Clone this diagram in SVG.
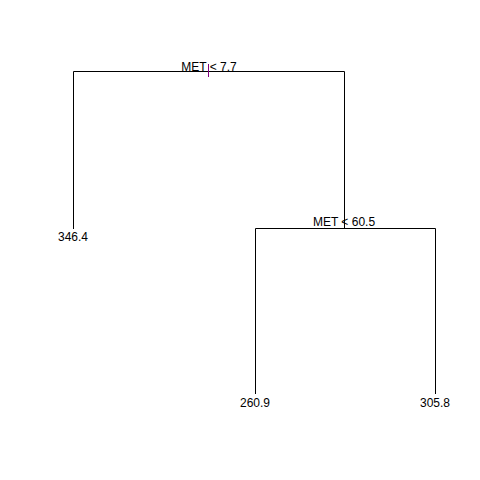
<svg xmlns="http://www.w3.org/2000/svg" width="480" height="480" viewBox="0 0 480 480">
<style>
.e{stroke:#000;stroke-width:1;fill:none}
text{font-family:"Liberation Sans",Arial,sans-serif;font-size:12px;fill:#000;text-anchor:middle}
</style>
<rect width="480" height="480" fill="#fff"/>
<g id="connectors">
<path class="e" d="M73.5,229 V71.5 H344.5 V228"/>
<path class="e" d="M255.5,394 V228.5 H435.5 V394"/>
<line x1="208.5" y1="64" x2="208.5" y2="77" stroke="#800080" stroke-width="1"/>
</g>
<g id="n1"><text x="209" y="71">MET &lt; 7.7</text></g>
<g id="n2"><text x="344" y="226">MET &lt; 60.5</text></g>
<g id="leaf1"><text x="73" y="241">346.4</text></g>
<g id="leaf2"><text x="255" y="407">260.9</text></g>
<g id="leaf3"><text x="435" y="407">305.8</text></g>
</svg>
